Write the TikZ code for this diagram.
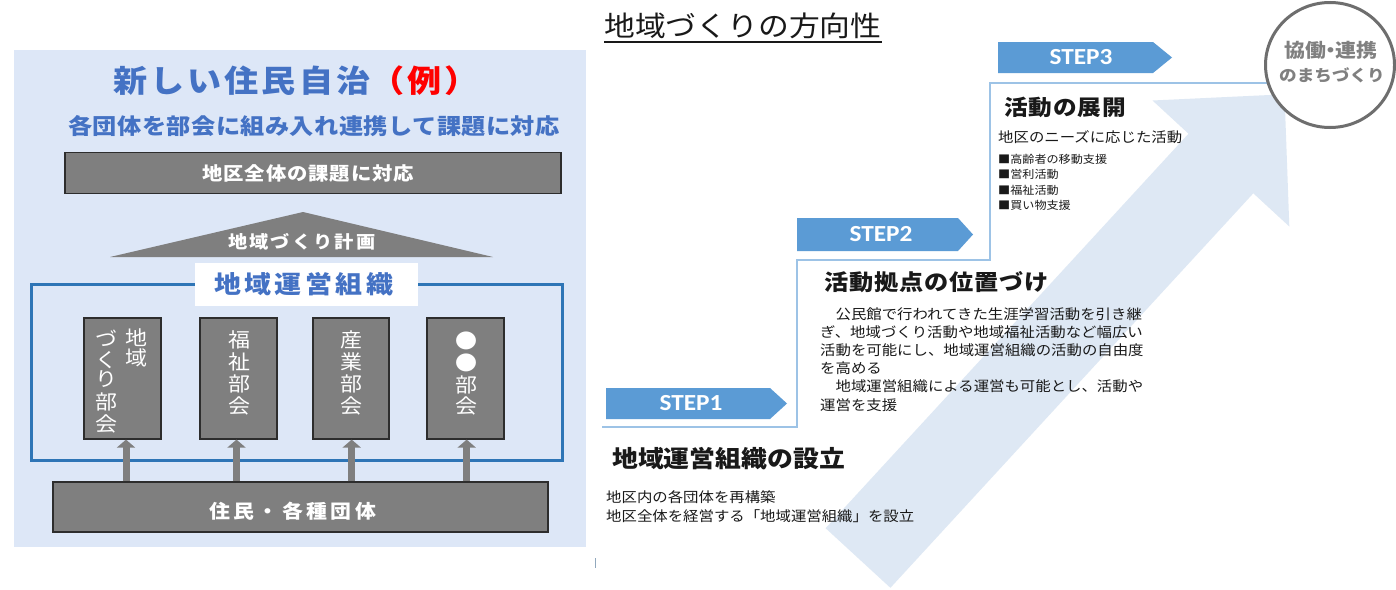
\documentclass[tikz,border=0pt]{standalone}
\usepackage{fontspec}
\setmainfont{Noto Sans CJK JP}[FakeStretch=1.1]
\newfontfamily\stepfont{Carlito}[FakeStretch=1.1]
\usetikzlibrary{arrows.meta,shapes.geometric}
\definecolor{panelbg}{RGB}{221,231,247}
\definecolor{jblue}{RGB}{68,114,196}
\definecolor{fblue}{RGB}{46,117,182}
\definecolor{boxgray}{RGB}{127,127,127}
\definecolor{boxedge}{RGB}{45,45,45}
\definecolor{stepblue}{RGB}{91,155,213}
\definecolor{stairblue}{RGB}{157,195,230}
\definecolor{bigarrow}{RGB}{222,232,244}
\definecolor{circgray}{RGB}{110,110,110}
\definecolor{circtext}{RGB}{128,128,128}
\definecolor{txtdark}{RGB}{25,25,25}
\newcommand\jf[2]{\fontsize{#1}{#1}\selectfont\addfontfeature{LetterSpace=#2}}
\tikzset{
  txt/.style={inner sep=0pt, anchor=base west, text=txtdark},
  ctxt/.style={inner sep=0pt, anchor=base},
  graybox/.style={draw=boxedge, line width=1.2pt, fill=boxgray, inner sep=0pt},
  colchar/.style={inner sep=0pt, anchor=base, text=white},
  uparrow/.style={draw=boxgray, line width=7pt, -{Triangle[width=18pt,length=8pt]}},
  steparrow/.style={fill=stepblue},
  steplabel/.style={inner sep=0pt, text=white, font=\stepfont\bfseries\fontsize{23}{23}\selectfont},
  stair/.style={draw=stairblue, line width=1.5pt},
}
\begin{document}
\begin{tikzpicture}[x=1pt,y=-1pt]
\useasboundingbox (0,0) rectangle (1396,589);
\fill[white] (0,0) rectangle (1396,589);

% ---------- left panel ----------
\fill[panelbg] (14,50) rectangle (586,547);
\node[txt,text=jblue] (title) at (113,92) {\bfseries\jf{31}{10}新しい住民自治\textcolor{red}{（例）}};
\node[txt,text=jblue] (sub) at (68,134.4) {\bfseries\jf{22}{2}各団体を部会に組み入れ連携して課題に対応};

\node[graybox, minimum width=496, minimum height=41] (whole) at (313,173) {};
\node[txt,text=white] (wholet) at (202,180.7) {\bfseries\jf{18.5}{5}地区全体の課題に対応};

\fill[boxgray] (303,212) -- (493,257) -- (110,257) -- cycle;
\node[txt,text=white] (plan) at (228,248.3) {\bfseries\jf{17.5}{12}地域づくり計画};

\draw[fblue, line width=3pt] (31,284) rectangle (562,460);
\node[fill=white, minimum width=223, minimum height=43, inner sep=0pt] (orgbox) at (306.5,284.5) {};
\node[txt,text=jblue] (org) at (214,293.3) {\bfseries\jf{24.5}{14}地域運営組織};

\node[graybox, minimum width=77, minimum height=121] (col1) at (122.5,378.5) {};
\node[graybox, minimum width=77, minimum height=121] (col2) at (238.5,378.5) {};
\node[graybox, minimum width=76, minimum height=121] (col3) at (351,378.5) {};
\node[graybox, minimum width=77, minimum height=121] (col4) at (465.5,378.5) {};

\foreach \ch/\yy [count=\k] in {地/345.1, 域/365.1}
  \node[colchar] (c1r-\k) at (136,\yy) {\jf{20}{0}\ch};
\foreach \ch/\yy [count=\k] in {づ/346.6, く/367.6, り/386.6, 部/409.6, 会/431.6}
  \node[colchar] (c1l-\k) at (106,\yy) {\jf{20}{0}\ch};
\foreach \ch/\yy [count=\k] in {福/347.6, 祉/369.6, 部/391.6, 会/413.6}
  \node[colchar] (c2-\k) at (239.5,\yy) {\jf{20}{0}\ch};
\foreach \ch/\yy [count=\k] in {産/347.6, 業/369.6, 部/391.6, 会/413.6}
  \node[colchar] (c3-\k) at (351.7,\yy) {\jf{20}{0}\ch};
\foreach \ch/\yy [count=\k] in {●/348.6, ●/370.1, 部/392.6, 会/413.6}
  \node[colchar] (c4-\k) at (466,\yy) {\jf{20}{0}\ch};

\node[graybox, minimum width=495, minimum height=50] (base) at (300.5,507) {};
\node[txt,text=white] (baset) at (209,518.7) {\bfseries\jf{19}{18}住民・各種団体};

\draw[uparrow] ([xshift=3.5pt]col1.south |- base.north) -- ([xshift=3.5pt]col1.south);
\draw[uparrow] ([xshift=-2pt]col2.south |- base.north) -- ([xshift=-2pt]col2.south);
\draw[uparrow] ([xshift=0.7pt]col3.south |- base.north) -- ([xshift=0.7pt]col3.south);
\draw[uparrow] ([xshift=1.2pt]col4.south |- base.north) -- ([xshift=1.2pt]col4.south);

% ---------- right side ----------
\node[txt] (rtitle) at (604,36.1) {\jf{28}{0}地域づくりの方向性};
\draw[txtdark, line width=2pt] ([yshift=-6pt]rtitle.base west) -- ([yshift=-6pt]rtitle.base east);

\fill[bigarrow] (825.6,528.2) -- (1188.5,133.7) -- (1152.5,100.5) -- (1284.5,94.3)
  -- (1289.3,226.5) -- (1253.3,193.3) -- (890.4,587.8) -- cycle;

\draw[stair] (602,427) -- (797,427) -- (797,260) -- (990,260) -- (990,83) -- (1300,83);

\node[ellipse, draw=circgray, line width=3pt, fill=white, minimum width=129, minimum height=125, inner sep=0pt] (circ) at (1330,65) {};
\node[ctxt,text=circtext] (circt1) at (1331,57.2) {\bfseries\jf{19}{0}協働\kern-6pt・\kern-6pt連携};
\node[ctxt,text=circtext] (circt2) at (1332,81.1) {\bfseries\jf{16}{0}のまちづくり};

\fill[steparrow] (606,388) -- (770,388) -- (787,403.5) -- (770,419) -- (606,419) -- cycle;
\fill[steparrow] (797,218) -- (958,218) -- (973,234.5) -- (958,251) -- (797,251) -- cycle;
\fill[steparrow] (998,42) -- (1153,42) -- (1172,57.5) -- (1153,73) -- (998,73) -- cycle;
\node[steplabel] (s1) at (691,403.5) {STEP1};
\node[steplabel] (s2) at (881,234.5) {STEP2};
\node[steplabel] (s3) at (1081,57.5) {STEP3};

% STEP3 content
\node[txt] (h3) at (1004,115.7) {\bfseries\jf{21.5}{4}活動の展開};
\node[txt] (t3a) at (998,142.3) {\jf{14}{0}地区のニーズに応じた活動};
\node[txt] (t3b) at (998,163.2) {\jf{11}{0}■高齢者の移動支援};
\node[txt] (t3c) at (998,178.2) {\jf{11}{0}■営利活動};
\node[txt] (t3d) at (998,194.2) {\jf{11}{0}■福祉活動};
\node[txt] (t3e) at (998,209.2) {\jf{11}{0}■買い物支援};

% STEP2 content
\node[txt] (h2) at (824,290.4) {\bfseries\jf{22}{4}活動拠点の位置づけ};
\node[txt] (t2a) at (820,319.3) {\jf{14}{0}　公民館で行われてきた生涯学習活動を引き継};
\node[txt] (t2b) at (820,337.3) {\jf{14}{0}ぎ、地域づくり活動や地域福祉活動など幅広い};
\node[txt] (t2c) at (820,355.3) {\jf{14}{0}活動を可能にし、地域運営組織の活動の自由度};
\node[txt] (t2d) at (820,373.3) {\jf{14}{0}を高める};
\node[txt] (t2e) at (820,391.8) {\jf{14}{0}　地域運営組織による運営も可能とし、活動や};
\node[txt] (t2f) at (820,410.3) {\jf{14}{0}運営を支援};

% STEP1 content
\node[txt] (h1) at (612,467.9) {\bfseries\jf{23.5}{0}地域運営組織の設立};
\node[txt] (t1a) at (606,502.3) {\jf{14}{0}地区内の各団体を再構築};
\node[txt] (t1b) at (606,521.3) {\jf{14}{0}地区全体を経営する「地域運営組織」を設立};

\draw[stairblue!60!gray, line width=1pt] (595,558) -- (595,568);
\end{tikzpicture}
\end{document}
